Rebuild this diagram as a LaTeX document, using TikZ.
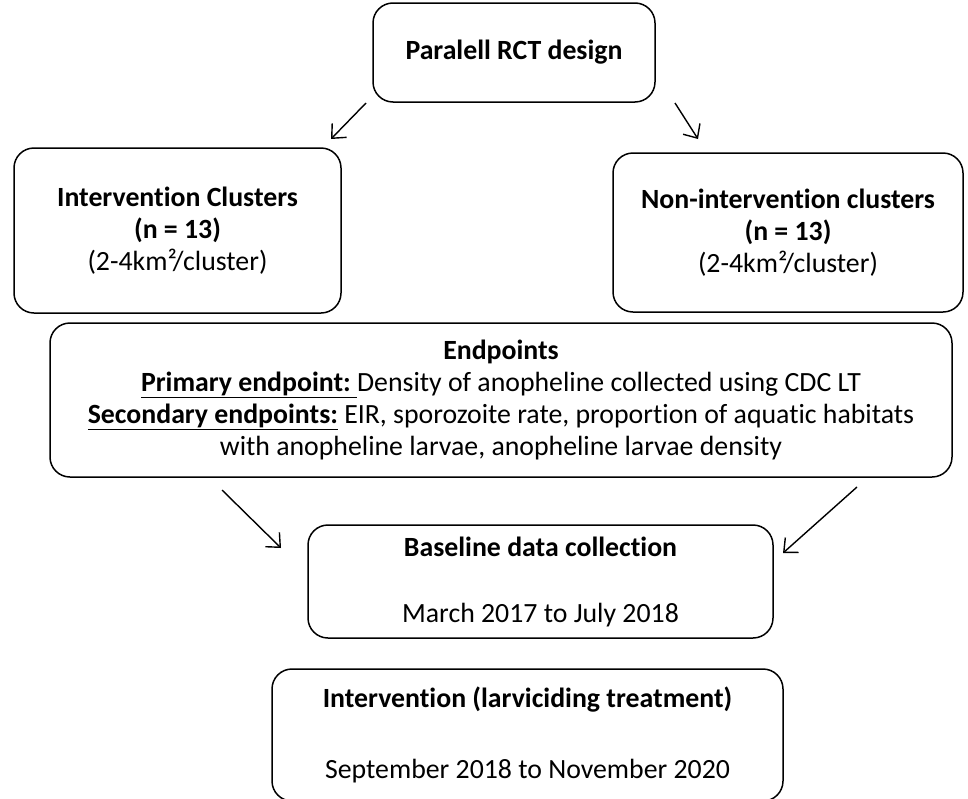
\documentclass[tikz,border=0pt]{standalone}
\usepackage{fontspec}
\setmainfont[Ligatures=NoCommon]{Carlito}
\usetikzlibrary{arrows.meta}

\tikzset{
    box/.style={draw, line width=1.5pt, rounded corners=20pt, align=center,
        inner sep=0pt, font=\fontsize{27.8}{32}\selectfont},
    arr/.style={line width=1.4pt, -{Straight Barb[length=11pt,width=20pt]}}
}

\begin{document}
\begin{tikzpicture}[x=1pt, y=-1pt]
            \useasboundingbox (0,0) rectangle (968,798);

            % Design
            \node[box, minimum width=282pt, minimum height=99pt] (rct) at (514,52.5)
                {\textbf{Paralell RCT design}};

            % Clusters
            \node[box, minimum width=327pt, minimum height=165pt] (intv) at (177.5,230.5)
                {\textbf{Intervention Clusters}\\\textbf{(n = 13)}\\(2-4km²/cluster)};
            \node[box, minimum width=350pt, minimum height=159pt] (nonintv) at (788,232.5)
                {\textbf{Non-intervention clusters}\\\textbf{(n = 13)}\\(2-4km²/cluster)};

            % Endpoints
            \node[box, minimum width=902pt, minimum height=154pt] (endp) at (501,400)
                {\textbf{Endpoints}\\
                 \underline{\textbf{Primary endpoint:}\ }Density of anopheline collected using CDC LT\\
                 \underline{\textbf{Secondary endpoints:}} EIR, sporozoite rate, proportion of aquatic habitats\\
                 with anopheline larvae, anopheline larvae density};

            % Baseline
            \node[box, minimum width=465pt, minimum height=113pt] (base) at (540.5,581.5)
                {\textbf{Baseline data collection}\\[34pt]March 2017 to July 2018};

            % Intervention
            \node[box, minimum width=511pt, minimum height=132pt] (larv) at (527.5,735)
                {\textbf{Intervention (larviciding treatment)}\\[39pt]September 2018 to November 2020};

            % Arrows
            \coordinate (a1) at (366,103);  \coordinate (b1) at (331,139);
            \coordinate (a2) at (675,103);  \coordinate (b2) at (698,139);
            \coordinate (a3) at (222,490);  \coordinate (b3) at (281,548);
            \coordinate (a4) at (857,487);  \coordinate (b4) at (783,553);
            \draw[arr] (a1) -- (b1);
            \draw[arr] (a2) -- (b2);
            \draw[arr] (a3) -- (b3);
            \draw[arr] (a4) -- (b4);

        \end{tikzpicture}
\end{document}
